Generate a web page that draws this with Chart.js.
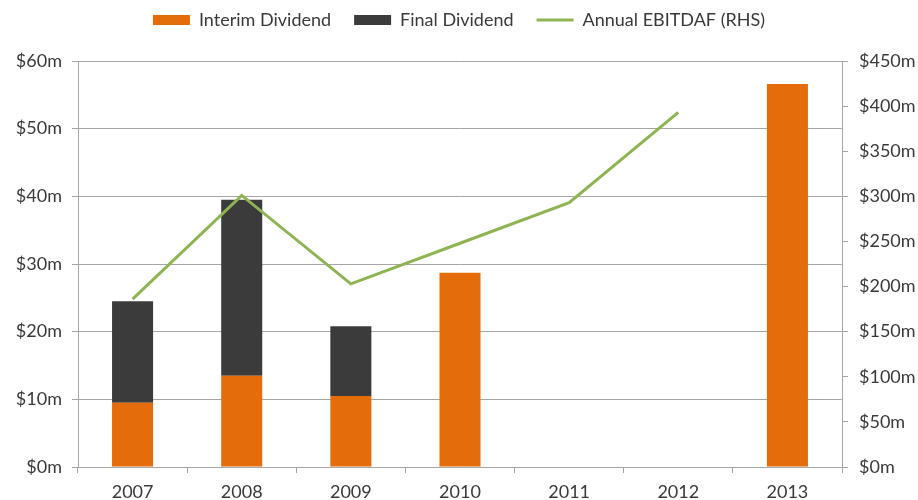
<!DOCTYPE html>
<html>
<head>
<meta charset="utf-8">
<title>Dividends and EBITDAF</title>
<script src="https://cdn.jsdelivr.net/npm/chart.js@4.4.1/dist/chart.umd.min.js"></script>
<style>
    html, body { margin: 0; padding: 0; background: #ffffff; }
    #wrap { width: 918px; height: 500px; position: relative; }
</style>
</head>
<body>
<div id="wrap"><canvas id="dividendChart"></canvas></div>
<script>
const years = ['2007', '2008', '2009', '2010', '2011', '2012', '2013'];
const interimDividend = [9.5, 13.5, 10.5, 28.7, 0, 0, 56.6];
const finalDividend = [15.0, 26.0, 10.3, 0, 0, 0, 0];
const annualEbitdaf = [186, 301, 203, 248, 293, 393, null];

const leftAxis = { min: 0, max: 60, step: 10 };
const rightAxis = { min: 0, max: 450, step: 50 };

const colors = {
    interim: '#e46c0a',
    final: '#3b3b3b',
    ebitdaf: '#8fb552',
    grid: '#a6a6a6',
    text: '#3a3a3a'
};

const FONT = "Lato, 'Open Sans', sans-serif";
Chart.defaults.font.family = FONT;
Chart.defaults.font.size = 18;
Chart.defaults.color = colors.text;

const money = (v) => `$${v}m`;

// legend sits near the top edge, leave a gap below it before the plot
const legendGap = {
    id: 'legendGap',
    afterInit(chart) {
        const legend = chart.legend;
        const baseFit = legend.fit.bind(legend);
        legend.fit = () => {
            baseFit();
            legend.height += 22;
        };
    }
};

new Chart(document.getElementById('dividendChart'), {
    data: {
        labels: years,
        datasets: [
            {
                type: 'bar',
                label: 'Interim Dividend',
                data: interimDividend,
                backgroundColor: colors.interim,
                pointStyle: 'rect',
                yAxisID: 'y',
                order: 2
            },
            {
                type: 'bar',
                label: 'Final Dividend',
                data: finalDividend,
                backgroundColor: colors.final,
                pointStyle: 'rect',
                yAxisID: 'y',
                order: 2
            },
            {
                type: 'line',
                label: 'Annual EBITDAF (RHS)',
                data: annualEbitdaf,
                borderColor: colors.ebitdaf,
                backgroundColor: colors.ebitdaf,
                borderWidth: 3,
                pointRadius: 0,
                pointHoverRadius: 0,
                pointStyle: 'line',
                tension: 0,
                yAxisID: 'y1',
                order: 1
            }
        ]
    },
    plugins: [legendGap],
    options: {
        responsive: true,
        maintainAspectRatio: false,
        animation: false,
        layout: { padding: { top: -12, left: 0, right: 0, bottom: 0 } },
        datasets: {
            bar: { barPercentage: 0.376, categoryPercentage: 1 }
        },
        plugins: {
            legend: {
                position: 'top',
                labels: {
                    usePointStyle: true,
                    pointStyleWidth: 37,
                    boxHeight: 10,
                    padding: 23,
                    color: colors.text,
                    font: { size: 18 },
                    sort: (a, b) => a.datasetIndex - b.datasetIndex
                }
            },
            tooltip: { enabled: false }
        },
        scales: {
            x: {
                stacked: true,
                offset: true,
                grid: {
                    drawOnChartArea: false,
                    drawTicks: true,
                    tickLength: 6,
                    offset: true,
                    color: colors.grid
                },
                border: { color: colors.grid },
                ticks: { padding: 8, font: { size: 18 } },
                afterFit: (scale) => { scale.height = 33; }
            },
            y: {
                stacked: true,
                position: 'left',
                min: leftAxis.min,
                max: leftAxis.max,
                grid: { color: colors.grid, tickLength: 6 },
                border: { color: colors.grid },
                ticks: {
                    stepSize: leftAxis.step,
                    padding: 10,
                    callback: money
                },
                afterFit: (scale) => { scale.width = 78; }
            },
            y1: {
                position: 'right',
                min: rightAxis.min,
                max: rightAxis.max,
                grid: { drawOnChartArea: false, color: colors.grid, tickLength: 6 },
                border: { color: colors.grid },
                ticks: {
                    stepSize: rightAxis.step,
                    padding: 11,
                    callback: money
                },
                afterFit: (scale) => { scale.width = 76; }
            }
        }
    }
});
</script>
</body>
</html>
